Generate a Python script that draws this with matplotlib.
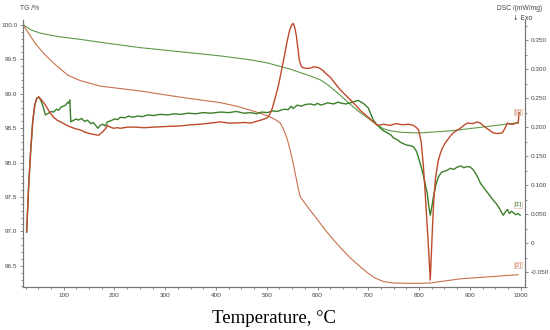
import matplotlib
matplotlib.use("Agg")
import matplotlib.pyplot as plt
from matplotlib.ticker import MultipleLocator, FuncFormatter

plt.rcParams["axes.unicode_minus"] = False

# TG curves (temperature in C, mass in %)
tg_green_t = [21, 35, 54, 90, 133, 190, 251, 330, 409, 440, 470, 500, 525, 545, 565, 585,
              606, 620, 635, 655, 670, 685, 704, 715, 730, 745, 763, 800, 861, 930, 995]
tg_green = [100.00, 99.93, 99.88, 99.83, 99.79, 99.73, 99.67, 99.61, 99.55, 99.52, 99.49,
            99.45, 99.40, 99.36, 99.31, 99.26, 99.20, 99.13, 99.04, 98.91, 98.81, 98.72,
            98.62, 98.56, 98.49, 98.46, 98.44, 98.43, 98.46, 98.52, 98.58]

tg_red_t = [21, 29, 45, 64, 84, 108, 133, 173, 251, 330, 409, 440, 468, 490, 507, 520,
            527, 533, 538, 543, 548, 553, 558, 562, 566, 575, 585, 600, 615, 631, 648,
            665, 682, 698, 714, 730, 750, 777, 800, 822, 881, 995]
tg_red = [99.99, 99.90, 99.72, 99.56, 99.42, 99.27, 99.19, 99.11, 99.04, 98.95, 98.87,
          98.82, 98.76, 98.71, 98.66, 98.61, 98.57, 98.48, 98.39, 98.27, 98.12, 97.95,
          97.77, 97.62, 97.50, 97.41, 97.31, 97.17, 97.02, 96.88, 96.74, 96.61, 96.50,
          96.40, 96.32, 96.27, 96.25, 96.245, 96.245, 96.25, 96.31, 96.37]

# DSC curves (mW/mg)
dsc_green_t = [27, 31, 35, 39, 43, 47, 51, 55, 59, 64, 70, 76, 80, 86, 90, 94, 99, 104,
               108, 110, 112, 114, 120, 125, 129, 135, 141, 147, 153, 158, 163, 167, 172,
               177, 182, 186, 193, 200, 206, 212, 220, 228, 236, 245, 255, 265, 277, 290,
               305, 318, 330, 345, 360, 375, 390, 409, 425, 440, 455, 468, 480, 490, 501,
               512, 520, 527, 535, 542, 548, 552, 560, 568, 576, 586, 594, 600, 606, 614,
               620, 625, 632, 640, 648, 656, 665, 672, 680, 686, 690, 695, 700, 705, 710,
               717, 724, 731, 738, 745, 750, 756, 763, 770, 776, 783, 789, 795, 802, 808,
               813, 816, 819, 822, 825, 828, 833, 838, 844, 850, 856, 862, 868, 875, 882,
               888, 895, 901, 907, 914, 921, 928, 934, 940, 946, 952, 958, 963, 966, 970,
               974, 978, 982, 986, 990, 995, 999]
dsc_green = [0.019, 0.100, 0.160, 0.210, 0.238, 0.250, 0.252, 0.246, 0.236, 0.221, 0.224,
             0.227, 0.226, 0.231, 0.229, 0.234, 0.236, 0.238, 0.243, 0.241, 0.247, 0.209,
             0.212, 0.214, 0.212, 0.215, 0.210, 0.212, 0.206, 0.208, 0.203, 0.198, 0.203,
             0.205, 0.202, 0.209, 0.211, 0.214, 0.213, 0.217, 0.216, 0.219, 0.217, 0.219,
             0.218, 0.221, 0.220, 0.222, 0.221, 0.223, 0.222, 0.224, 0.223, 0.225, 0.224,
             0.226, 0.225, 0.227, 0.224, 0.225, 0.223, 0.226, 0.225, 0.228, 0.227, 0.229,
             0.231, 0.230, 0.236, 0.232, 0.238, 0.236, 0.239, 0.240, 0.238, 0.241, 0.238,
             0.240, 0.242, 0.241, 0.240, 0.243, 0.241, 0.240, 0.242, 0.244, 0.246, 0.243,
             0.241, 0.237, 0.233, 0.222, 0.212, 0.204, 0.198, 0.193, 0.190, 0.186, 0.181,
             0.179, 0.174, 0.171, 0.169, 0.168, 0.166, 0.158, 0.138, 0.118, 0.098, 0.086,
             0.064, 0.048, 0.062, 0.079, 0.100, 0.114, 0.122, 0.124, 0.126, 0.129, 0.127,
             0.131, 0.133, 0.130, 0.132, 0.131, 0.126, 0.116, 0.103, 0.095, 0.088, 0.081,
             0.074, 0.068, 0.060, 0.052, 0.048, 0.054, 0.058, 0.051, 0.055, 0.052, 0.049,
             0.051, 0.048]

dsc_red_t = [27, 31, 35, 39, 43, 47, 51, 57, 64, 72, 80, 87, 94, 104, 114, 124, 133, 140,
             147, 155, 162, 169, 174, 178, 183, 186, 192, 198, 205, 212, 225, 241, 258,
             277, 300, 330, 350, 369, 390, 409, 425, 438, 455, 468, 480, 488, 495, 501,
             506, 511, 517, 523, 529, 535, 540, 545, 549, 552, 555, 558, 561, 564, 567,
             570, 578, 586, 593, 600, 605, 610, 617, 625, 635, 645, 652, 659, 667, 675,
             680, 684, 692, 700, 709, 718, 730, 743, 755, 767, 779, 789, 795, 799, 804,
             808, 811, 814, 818, 822, 826, 829, 832, 835, 838, 842, 846, 851, 856, 861,
             867, 874, 881, 888, 895, 905, 915, 922, 930, 938, 946, 955, 964, 969, 974,
             980, 986, 991, 995, 997]
dsc_red = [0.019, 0.100, 0.160, 0.210, 0.238, 0.250, 0.252, 0.246, 0.238, 0.226, 0.217,
           0.212, 0.209, 0.204, 0.200, 0.197, 0.195, 0.192, 0.190, 0.188, 0.187, 0.186,
           0.190, 0.193, 0.198, 0.203, 0.200, 0.198, 0.199, 0.198, 0.200, 0.200, 0.199,
           0.200, 0.201, 0.202, 0.204, 0.205, 0.207, 0.209, 0.207, 0.207, 0.208, 0.207,
           0.210, 0.212, 0.214, 0.216, 0.222, 0.233, 0.252, 0.272, 0.298, 0.324, 0.348,
           0.367, 0.376, 0.379, 0.372, 0.359, 0.338, 0.316, 0.307, 0.303, 0.301, 0.302,
           0.304, 0.303, 0.301, 0.298, 0.292, 0.286, 0.275, 0.264, 0.258, 0.252, 0.245,
           0.238, 0.233, 0.229, 0.223, 0.217, 0.210, 0.203, 0.205, 0.203, 0.206, 0.204,
           0.205, 0.203, 0.199, 0.195, 0.175, 0.138, 0.100, 0.057, 0.000, -0.064, 0.020,
           0.075, 0.109, 0.128, 0.143, 0.155, 0.164, 0.172, 0.178, 0.184, 0.190, 0.194,
           0.198, 0.203, 0.207, 0.206, 0.209, 0.206, 0.200, 0.195, 0.190, 0.189, 0.190,
           0.198, 0.207, 0.205, 0.205, 0.207, 0.207, 0.225]

curve_tags = ["[3]", "[1]", "[2]"]
tag_t = [995, 995, 995]
tag_dsc = [0.226, 0.066, -0.038]

c_green = "#3b7f2a"
c_red = "#bf4a2c"
c_red_tg = "#c8704a"
c_green_tg = "#5d9a48"
c_axis = "#777777"

fig = plt.figure(figsize=(5.5, 3.3), dpi=100)
ax = fig.add_axes([0.042, 0.130, 0.912, 0.809])
ax2 = ax.twinx()

ax.plot(tg_green_t, tg_green, color=c_green_tg, lw=0.8)
ax.plot(tg_red_t, tg_red, color=c_red_tg, lw=0.8)
ax2.plot(dsc_green_t, dsc_green, color=c_green, lw=1.0)
ax2.plot(dsc_red_t, dsc_red, color=c_red, lw=1.0)

tag_colors = [c_red_tg, c_green, c_red_tg]
for s, t, v, c in zip(curve_tags, tag_t, tag_dsc, tag_colors):
    ax2.text(t, v, s, fontsize=4.5, color=c, ha="center", va="center",
             family="Liberation Sans",
             bbox=dict(boxstyle="square,pad=0.1", fc="none", ec="#d8b090", lw=0.4))

ax.set_xlim(20, 1008)
ax.set_ylim(96.19, 100.07)
ax2.set_ylim(-0.0759, 0.3845)

ax.xaxis.set_major_locator(MultipleLocator(100))
ax.xaxis.set_minor_locator(MultipleLocator(25))
ax.yaxis.set_major_locator(MultipleLocator(0.5))
ax.yaxis.set_minor_locator(MultipleLocator(0.1))
ax2.yaxis.set_major_locator(MultipleLocator(0.05))
ax2.yaxis.set_minor_locator(MultipleLocator(0.025))
ax.yaxis.set_major_formatter(FuncFormatter(lambda v, p: f"{v:.1f}"))
ax2.yaxis.set_major_formatter(FuncFormatter(lambda v, p: "0" if abs(v) < 1e-9 else f"{v:.3f}"))
ax.xaxis.set_major_formatter(FuncFormatter(lambda v, p: f"{v:.0f}"))

for a in (ax, ax2):
    a.spines["top"].set_visible(False)
    for sp in a.spines.values():
        sp.set_color(c_axis)
        sp.set_linewidth(0.8)
    a.tick_params(which="both", colors=c_axis, labelcolor="#444444", labelsize=4.6,
                  direction="out", width=0.6)
    a.tick_params(which="major", length=2.5, pad=1.5)
    a.tick_params(which="minor", length=1.3)
    for lab in a.get_xticklabels() + a.get_yticklabels():
        lab.set_family("Liberation Sans")

fig.text(0.036, 0.985, "TG /%", fontsize=4.8, color="#444444", va="top",
         family="Liberation Sans")
fig.text(0.945, 0.985, "DSC /(mW/mg)", fontsize=4.8, color="#444444", va="top",
         ha="center", family="Liberation Sans")
fig.text(0.95, 0.955, "\u2193 Exo", fontsize=4.8, color="#444444", va="top", ha="center")

ax.set_xlabel("Temperature, \u00b0C", fontsize=13.5, family="Liberation Serif", labelpad=9)

fig.savefig("out.png", dpi=100)
